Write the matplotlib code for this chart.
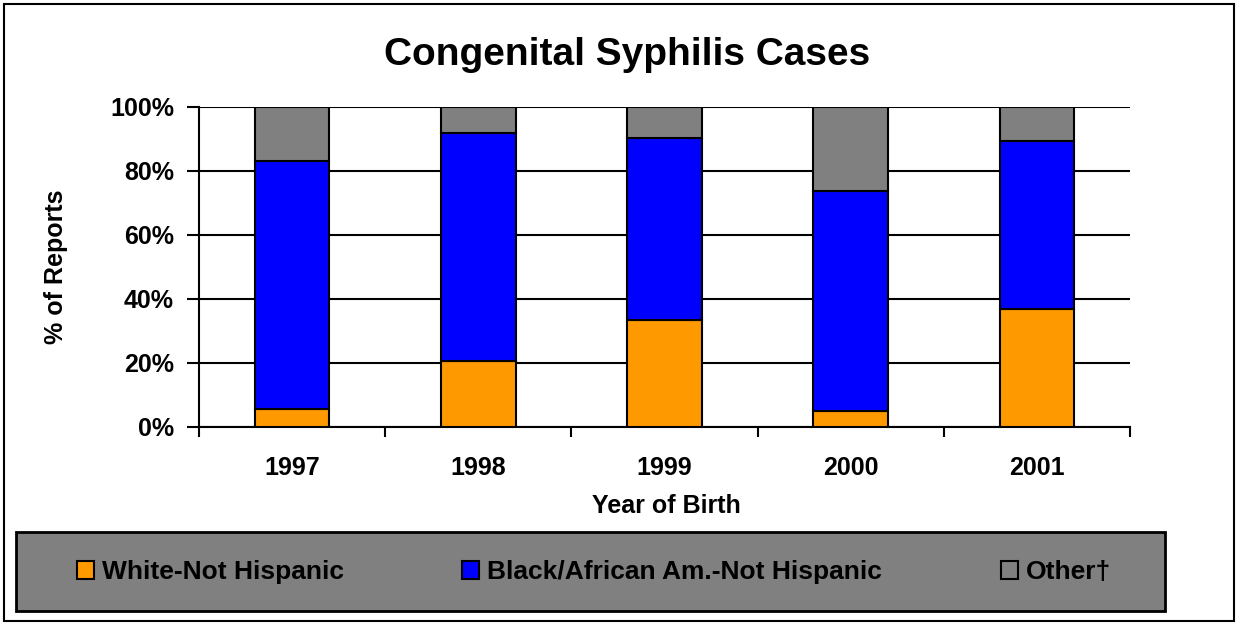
import matplotlib
matplotlib.use("Agg")
import matplotlib.pyplot as plt
from matplotlib.patches import Rectangle, Patch

plt.rcParams['font.family'] = ['Liberation Sans', 'DejaVu Sans']
plt.rcParams['font.weight'] = 'bold'

years = ["1997", "1998", "1999", "2000", "2001"]
white = [5.4, 20.6, 33.3, 5.0, 36.8]
black = [77.7, 71.1, 57.0, 68.7, 52.5]
other = [16.9, 8.3, 9.7, 26.3, 10.7]
series_names = ["White-Not Hispanic", "Black/African Am.-Not Hispanic", "Other\u2020"]
colors = ["#FF9900", "#0000FF", "#808080"]

W, H = 1238, 625
fig = plt.figure(figsize=(W / 100, H / 100), dpi=100)

# axes placed in pixel terms of the reference
ax = fig.add_axes([199 / W, 1 - 426.7 / H, (1130 - 199) / W, 320 / H])

x = list(range(len(years)))
bottom2 = [a + b for a, b in zip(white, black)]
ax.bar(x, white, width=0.4, color=colors[0], edgecolor="black", linewidth=1.5, zorder=3)
ax.bar(x, black, width=0.4, bottom=white, color=colors[1], edgecolor="black", linewidth=1.5, zorder=3)
ax.bar(x, other, width=0.4, bottom=bottom2, color=colors[2], edgecolor="black", linewidth=1.5, zorder=3)

ax.set_xlim(-0.5, len(years) - 0.5)
ax.set_ylim(0, 100)
ax.set_yticks([0, 20, 40, 60, 80, 100])
ax.set_yticklabels([f"{v}%" for v in [0, 20, 40, 60, 80, 100]], fontsize=18, fontweight="bold")
ax.yaxis.grid(True, color="black", linewidth=1.5, zorder=0)
ax.set_axisbelow(True)

# ticks between categories, labels at centers
ax.set_xticks([i - 0.5 for i in range(len(years) + 1)])
ax.set_xticklabels([])
ax.set_xticks(x, minor=True)
ax.set_xticklabels(years, minor=True, fontsize=18, fontweight="bold")
ax.tick_params(axis="x", which="major", length=7, width=1.5, direction="out")
ax.tick_params(axis="x", which="minor", length=0, pad=21)
ax.tick_params(axis="y", length=9, width=1.5, pad=9)

for s in ["top", "right"]:
    ax.spines[s].set_visible(False)
for s in ["left", "bottom"]:
    ax.spines[s].set_linewidth(1.5)

fig.text(627 / W, 1 - 65 / H, "Congenital Syphilis Cases", ha="center", va="baseline",
         fontsize=28, fontweight="bold")
fig.text(666.5 / W, 1 - 513 / H, "Year of Birth", ha="center", va="baseline",
         fontsize=18, fontweight="bold")
fig.text(56 / W, 1 - 266.7 / H, "% of Reports", ha="center", va="center", rotation=90,
         fontsize=18, fontweight="bold")

# outer border and legend box
fig.patches.append(Rectangle((4 / W, 4 / H), 1230 / W, 617 / H, transform=fig.transFigure,
                             fill=False, edgecolor="black", linewidth=1.5, figure=fig))
fig.patches.append(Rectangle((16 / W, 1 - 611 / H), (1165 - 16) / W, (611 - 532) / H,
                             transform=fig.transFigure, facecolor="#808080",
                             edgecolor="black", linewidth=2, figure=fig))

leg_x = [77, 462, 1001]
for name, c, lx in zip(series_names, colors, leg_x):
    h = Patch(facecolor=c, edgecolor="black", linewidth=1.5)
    fig.legend([h], [name], loc="center left", bbox_to_anchor=(lx / W, 1 - 572 / H),
               frameon=False, borderpad=0, borderaxespad=0, handlelength=0.65,
               handleheight=0.65, handletextpad=0.3,
               prop={"size": 19, "weight": "bold"})

fig.savefig("out.png", dpi=100)
